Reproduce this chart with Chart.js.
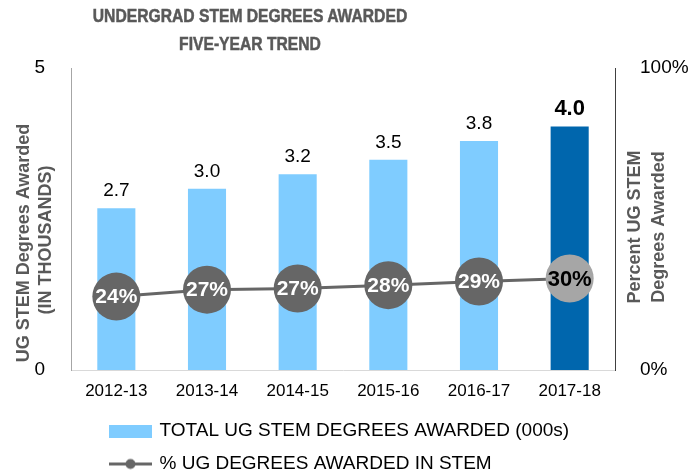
<!DOCTYPE html>
<html>
<head>
<meta charset="utf-8">
<script src="https://cdn.jsdelivr.net/npm/chart.js@4/dist/chart.umd.min.js"></script>
<style>
  html, body { margin: 0; padding: 0; background: #fff; }
  #wrap { position: relative; width: 696px; height: 474px; }
  #title {
    position: absolute; left: 0; top: 2px; width: 500px;
    text-align: center; color: #595959;
    font: bold 18px/28px 'Liberation Sans', Arial, sans-serif;
    -webkit-text-stroke: 0.5px #595959;
    transform: scaleX(0.87);
    transform-origin: 250px 0;
  }
</style>
</head>
<body>
<div id="wrap">
  <canvas id="myChart" width="696" height="474"></canvas>
  <div id="title">UNDERGRAD STEM DEGREES AWARDED<br>FIVE-YEAR TREND</div>
</div>
<script>
const years = ['2012-13', '2013-14', '2014-15', '2015-16', '2016-17', '2017-18'];
const degreeTotals = [2.68, 3.0, 3.24, 3.48, 3.79, 4.03];   // thousands
const pctStem = [0.243, 0.266, 0.27, 0.281, 0.293, 0.303];
const leftTicks = [0, 5];
const rightTicks = [0, 1];

const lightBlue = '#7fccff';
const darkBlue = '#0066ad';
const lineGray = '#666666';
const lastGray = '#a6a6a6';
const titleGray = '#595959';
const font = "'Liberation Sans', Arial, sans-serif";

let barColors = years.map((y, i) => i === years.length - 1 ? darkBlue : lightBlue);
let pointColors = years.map((y, i) => i === years.length - 1 ? lastGray : lineGray);

// little images for the legend markers
function legendSwatch(kind) {
  const c = document.createElement('canvas');
  c.width = 43;
  c.height = 13;
  const ctx = c.getContext('2d');
  if (kind === 'bar') {
    ctx.fillStyle = lightBlue;
    ctx.fillRect(0, 0, 43, 13);
  } else {
    ctx.strokeStyle = lineGray;
    ctx.lineWidth = 3;
    ctx.beginPath();
    ctx.moveTo(0, 6.5);
    ctx.lineTo(43, 6.5);
    ctx.stroke();
    ctx.fillStyle = lineGray;
    ctx.beginPath();
    ctx.arc(21.5, 6.5, 5, 0, Math.PI * 2);
    ctx.fill();
  }
  return c;
}

const valueLabels = {
  id: 'valueLabels',
  afterDatasetsDraw(chart) {
    const ctx = chart.ctx;
    ctx.save();
    // totals above the bars
    chart.getDatasetMeta(0).data.forEach((bar, i) => {
      let last = i === years.length - 1;
      ctx.font = (last ? 'bold 22px ' : '19px ') + font;
      ctx.fillStyle = '#000';
      ctx.textAlign = 'center';
      ctx.textBaseline = 'alphabetic';
      ctx.fillText(degreeTotals[i].toFixed(1), bar.x, bar.y - 12);
    });
    // percents inside the circles
    chart.getDatasetMeta(1).data.forEach((pt, i) => {
      let last = i === years.length - 1;
      ctx.font = (last ? 'bold 22px ' : 'bold 21px ') + font;
      ctx.fillStyle = last ? '#000' : '#fff';
      ctx.textAlign = 'center';
      ctx.textBaseline = 'middle';
      ctx.fillText(Math.round(pctStem[i] * 100) + '%', pt.x, pt.y + 1);
    });
    ctx.restore();
  }
};

const axisTitles = {
  id: 'axisTitles',
  afterDraw(chart) {
    const ctx = chart.ctx;
    ctx.save();
    ctx.font = 'bold 18px ' + font;
    ctx.fillStyle = titleGray;
    ctx.textAlign = 'center';
    ctx.textBaseline = 'middle';
    let rows = [
      ['UG STEM Degrees Awarded', 24, 243],
      ['(IN THOUSANDS)', 46, 240],
      ['Percent UG STEM', 635, 227],
      ['Degrees Awarded', 659, 227]
    ];
    rows.forEach(r => {
      ctx.save();
      ctx.translate(r[1], r[2]);
      ctx.rotate(-Math.PI / 2);
      ctx.fillText(r[0], 0, 0);
      ctx.restore();
    });
    ctx.restore();
  }
};

// slide the legend under the plot like the original
const moveLegend = {
  id: 'moveLegend',
  beforeDraw(chart) {
    const lg = chart.legend;
    const dx = 97 - lg.left;
    const dy = 407.5 - lg.top;
    lg.left += dx; lg.right += dx;
    lg.top += dy; lg.bottom += dy;
  }
};

new Chart(document.getElementById('myChart'), {
  type: 'bar',
  data: {
    labels: years,
    datasets: [
      {
        label: 'TOTAL UG STEM DEGREES AWARDED (000s)',
        data: degreeTotals,
        backgroundColor: barColors,
        categoryPercentage: 1,
        barPercentage: 0.42,
        yAxisID: 'y',
        order: 1
      },
      {
        type: 'line',
        label: '% UG DEGREES AWARDED IN STEM',
        data: pctStem,
        borderColor: lineGray,
        borderWidth: 3,
        pointRadius: 24,
        pointHoverRadius: 24,
        pointBackgroundColor: pointColors,
        pointBorderWidth: 0,
        yAxisID: 'y1',
        order: 0
      }
    ]
  },
  options: {
    responsive: false,
    animation: false,
    layout: { padding: { top: 68, left: 0, right: 0, bottom: 0 } },
    plugins: {
      title: { display: false },
      tooltip: { enabled: false },
      legend: {
        position: 'bottom',
        align: 'start',
        fullSize: false,
        maxHeight: 64,
        labels: {
          usePointStyle: true,
          pointStyleWidth: 39,
          padding: 14,
          color: '#000',
          font: { family: font, size: 19 },
          sort: (a, b) => a.datasetIndex - b.datasetIndex,
          generateLabels(chart) {
            let items = Chart.defaults.plugins.legend.labels.generateLabels(chart);
            items.forEach(it => {
              it.pointStyle = legendSwatch(it.datasetIndex === 0 ? 'bar' : 'line');
            });
            return items;
          }
        }
      }
    },
    scales: {
      x: {
        grid: { display: false },
        border: { display: true, color: '#d9d9d9' },
        ticks: { color: '#000', padding: 3, font: { family: font, size: 17 } },
        afterFit(scale) { scale.height = 40; }
      },
      y: {
        position: 'left',
        min: 0,
        max: 5,
        afterBuildTicks(scale) { scale.ticks = leftTicks.map(v => ({ value: v })); },
        grid: { display: false },
        border: { display: true, color: '#a6a6a6' },
        ticks: { color: '#000', padding: 18, font: { family: font, size: 19 } },
        afterFit(scale) { scale.width = 71; }
      },
      y1: {
        position: 'right',
        min: 0,
        max: 1,
        afterBuildTicks(scale) { scale.ticks = rightTicks.map(v => ({ value: v })); },
        grid: { display: false },
        border: { display: true, color: '#404040' },
        ticks: {
          color: '#000',
          padding: 17,
          font: { family: font, size: 19 },
          callback: v => Math.round(v * 100) + '%'
        },
        afterFit(scale) { scale.width = 81; }
      }
    }
  },
  plugins: [valueLabels, axisTitles, moveLegend]
});
</script>
</body>
</html>
